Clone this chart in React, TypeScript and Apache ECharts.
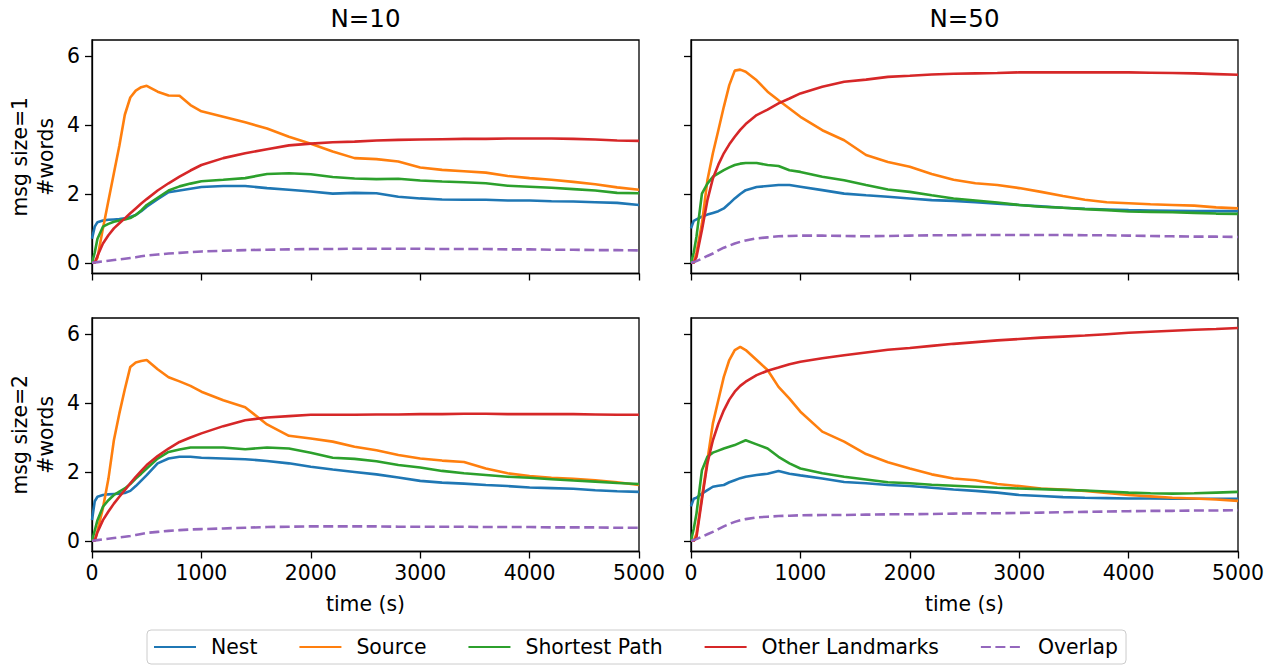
import React, { useEffect, useRef } from "react";
import * as echarts from "echarts";

// time samples (s)
const TIME = [0, 25, 50, 100, 150, 200, 250, 300, 350, 400, 450, 500, 600, 700, 800, 900, 1000, 1200, 1400, 1600, 1800, 2000, 2200, 2400, 2600, 2800, 3000, 3200, 3400, 3600, 3800, 4000, 4200, 4400, 4600, 4800, 5000];

const SERIES_NAMES = ["Nest", "Source", "Shortest Path", "Other Landmarks", "Overlap"];
const COLORS = ["#1f77b4", "#ff7f0e", "#2ca02c", "#d62728", "#9467bd"];
const COL_TITLES = ["N=10", "N=50"];
const ROW_LABELS = ["msg size=1\n#words", "msg size=2\n#words"];
const X_TICKS = [0, 1000, 2000, 3000, 4000, 5000];
const Y_TICKS = [0, 2, 4, 6];

// msg size=1, N=10
const NEST_S1_N10 = [0.7, 1.05, 1.18, 1.23, 1.25, 1.26, 1.27, 1.29, 1.33, 1.39, 1.5, 1.63, 1.85, 2.05, 2.1, 2.15, 2.2, 2.23, 2.23, 2.17, 2.12, 2.07, 2.01, 2.03, 2.02, 1.92, 1.87, 1.84, 1.83, 1.83, 1.81, 1.81, 1.79, 1.78, 1.76, 1.74, 1.68];
const SOURCE_S1_N10 = [0, 0, 0.15, 1.0, 1.8, 2.6, 3.4, 4.3, 4.8, 5.0, 5.1, 5.14, 4.97, 4.86, 4.85, 4.58, 4.4, 4.24, 4.08, 3.9, 3.66, 3.46, 3.23, 3.04, 3.01, 2.94, 2.77, 2.7, 2.66, 2.62, 2.52, 2.46, 2.41, 2.35, 2.28, 2.19, 2.12];
const SHORT_S1_N10 = [0, 0.3, 0.7, 1.05, 1.13, 1.19, 1.23, 1.26, 1.3, 1.39, 1.52, 1.68, 1.89, 2.1, 2.22, 2.3, 2.37, 2.41, 2.46, 2.58, 2.6, 2.57, 2.49, 2.45, 2.43, 2.44, 2.39, 2.36, 2.34, 2.31, 2.24, 2.21, 2.18, 2.14, 2.1, 2.03, 2.02];
const OTHER_S1_N10 = [0, 0, 0.2, 0.56, 0.8, 1.0, 1.15, 1.29, 1.44, 1.58, 1.72, 1.85, 2.1, 2.31, 2.5, 2.68, 2.84, 3.04, 3.18, 3.3, 3.41, 3.46, 3.5, 3.52, 3.55, 3.57, 3.58, 3.59, 3.6, 3.6, 3.61, 3.61, 3.61, 3.6, 3.58, 3.55, 3.54];
const OVERLAP_S1_N10 = [0, 0.01, 0.02, 0.04, 0.06, 0.08, 0.1, 0.12, 0.14, 0.16, 0.19, 0.21, 0.24, 0.27, 0.29, 0.31, 0.33, 0.35, 0.37, 0.38, 0.39, 0.4, 0.4, 0.41, 0.41, 0.41, 0.41, 0.4, 0.4, 0.4, 0.39, 0.39, 0.38, 0.38, 0.37, 0.37, 0.36];

// msg size=1, N=50
const NEST_S1_N50 = [1.0, 1.22, 1.26, 1.34, 1.4, 1.45, 1.5, 1.58, 1.72, 1.87, 2.0, 2.11, 2.2, 2.23, 2.26, 2.26, 2.21, 2.11, 2.01, 1.96, 1.92, 1.87, 1.82, 1.8, 1.76, 1.72, 1.68, 1.64, 1.6, 1.57, 1.55, 1.53, 1.52, 1.51, 1.5, 1.5, 1.5];
const SOURCE_S1_N50 = [0, 0, 0.3, 1.14, 2.4, 3.18, 3.85, 4.53, 5.16, 5.58, 5.61, 5.55, 5.3, 4.97, 4.72, 4.48, 4.24, 3.85, 3.56, 3.13, 2.93, 2.79, 2.58, 2.41, 2.31, 2.26, 2.17, 2.06, 1.94, 1.83, 1.76, 1.73, 1.7, 1.68, 1.66, 1.61, 1.58];
const SHORT_S1_N50 = [0, 0.3, 0.76, 2.01, 2.3, 2.5, 2.6, 2.69, 2.77, 2.84, 2.88, 2.9, 2.9, 2.84, 2.81, 2.69, 2.64, 2.5, 2.4, 2.26, 2.13, 2.06, 1.96, 1.87, 1.81, 1.75, 1.68, 1.63, 1.6, 1.56, 1.53, 1.49, 1.48, 1.47, 1.45, 1.43, 1.42];
const OTHER_S1_N50 = [0, 0, 0.17, 0.95, 1.82, 2.45, 2.85, 3.18, 3.44, 3.66, 3.86, 4.03, 4.29, 4.45, 4.63, 4.77, 4.92, 5.11, 5.26, 5.32, 5.4, 5.43, 5.47, 5.49, 5.5, 5.51, 5.53, 5.53, 5.53, 5.53, 5.53, 5.53, 5.52, 5.51, 5.5, 5.48, 5.46];
const OVERLAP_S1_N50 = [0, 0.02, 0.05, 0.12, 0.2, 0.27, 0.36, 0.44, 0.5, 0.56, 0.61, 0.65, 0.71, 0.74, 0.77, 0.78, 0.79, 0.79, 0.78, 0.77, 0.78, 0.79, 0.8, 0.8, 0.81, 0.81, 0.81, 0.81, 0.81, 0.8, 0.8, 0.79, 0.78, 0.77, 0.76, 0.76, 0.75];

// msg size=2, N=10
const NEST_S2_N10 = [0.6, 1.15, 1.28, 1.33, 1.35, 1.36, 1.37, 1.39, 1.45, 1.59, 1.75, 1.91, 2.25, 2.39, 2.44, 2.44, 2.41, 2.39, 2.37, 2.32, 2.25, 2.15, 2.07, 2.0, 1.93, 1.84, 1.74, 1.69, 1.66, 1.62, 1.59, 1.55, 1.53, 1.51, 1.47, 1.44, 1.42];
const SOURCE_S2_N10 = [0, 0, 0.3, 0.95, 1.8, 2.92, 3.7, 4.4, 5.05, 5.18, 5.22, 5.25, 4.98, 4.75, 4.63, 4.5, 4.33, 4.08, 3.88, 3.38, 3.05, 2.97, 2.88, 2.73, 2.63, 2.49, 2.39, 2.33, 2.29, 2.1, 1.96, 1.88, 1.83, 1.8, 1.76, 1.7, 1.62];
const SHORT_S2_N10 = [0, 0.3, 0.6, 0.99, 1.18, 1.33, 1.43, 1.52, 1.65, 1.81, 1.95, 2.1, 2.39, 2.58, 2.65, 2.71, 2.71, 2.71, 2.66, 2.71, 2.68, 2.56, 2.41, 2.38, 2.31, 2.2, 2.13, 2.03, 1.96, 1.91, 1.86, 1.83, 1.79, 1.75, 1.72, 1.68, 1.65];
const OTHER_S2_N10 = [0, 0, 0.25, 0.6, 0.85, 1.08, 1.28, 1.47, 1.67, 1.86, 2.03, 2.2, 2.46, 2.68, 2.87, 3.0, 3.12, 3.33, 3.5, 3.58, 3.62, 3.66, 3.66, 3.66, 3.67, 3.67, 3.68, 3.68, 3.69, 3.69, 3.68, 3.68, 3.68, 3.68, 3.67, 3.66, 3.66];
const OVERLAP_S2_N10 = [0, 0.01, 0.02, 0.04, 0.06, 0.08, 0.1, 0.12, 0.14, 0.17, 0.2, 0.23, 0.26, 0.29, 0.31, 0.33, 0.34, 0.36, 0.38, 0.4, 0.41, 0.42, 0.42, 0.42, 0.42, 0.41, 0.41, 0.41, 0.41, 0.4, 0.4, 0.4, 0.39, 0.39, 0.39, 0.38, 0.38];

// msg size=2, N=50
const NEST_S2_N50 = [1.0, 1.22, 1.25, 1.37, 1.47, 1.57, 1.6, 1.62, 1.7, 1.76, 1.82, 1.86, 1.91, 1.95, 2.03, 1.95, 1.9, 1.81, 1.71, 1.67, 1.62, 1.59, 1.54, 1.49, 1.45, 1.4, 1.33, 1.3, 1.27, 1.25, 1.24, 1.23, 1.23, 1.22, 1.22, 1.22, 1.22];
const SOURCE_S2_N50 = [0, 0, 0.2, 1.28, 2.34, 3.41, 4.09, 4.76, 5.25, 5.54, 5.63, 5.54, 5.25, 4.96, 4.47, 4.13, 3.75, 3.17, 2.88, 2.52, 2.28, 2.1, 1.93, 1.81, 1.76, 1.65, 1.59, 1.52, 1.49, 1.45, 1.39, 1.33, 1.29, 1.25, 1.23, 1.2, 1.16];
const SHORT_S2_N50 = [0, 0.35, 0.79, 2.05, 2.44, 2.56, 2.62, 2.68, 2.73, 2.78, 2.85, 2.92, 2.8, 2.68, 2.44, 2.25, 2.1, 1.96, 1.86, 1.78, 1.7, 1.67, 1.63, 1.6, 1.57, 1.54, 1.52, 1.5, 1.48, 1.46, 1.43, 1.4, 1.38, 1.37, 1.38, 1.4, 1.42];
const OTHER_S2_N50 = [0, 0, 0.1, 1.2, 2.25, 2.92, 3.4, 3.79, 4.1, 4.33, 4.5, 4.62, 4.81, 4.94, 5.03, 5.13, 5.2, 5.3, 5.39, 5.47, 5.55, 5.6, 5.66, 5.72, 5.77, 5.82, 5.86, 5.9, 5.93, 5.96, 6.0, 6.04, 6.07, 6.1, 6.13, 6.15, 6.18];
const OVERLAP_S2_N50 = [0, 0.02, 0.05, 0.12, 0.19, 0.26, 0.34, 0.42, 0.49, 0.55, 0.6, 0.63, 0.68, 0.7, 0.72, 0.73, 0.74, 0.75, 0.75, 0.76, 0.77, 0.77, 0.78, 0.79, 0.8, 0.8, 0.81, 0.82, 0.83, 0.84, 0.85, 0.86, 0.87, 0.87, 0.88, 0.88, 0.89];

const PANELS = [
  [NEST_S1_N10, SOURCE_S1_N10, SHORT_S1_N10, OTHER_S1_N10, OVERLAP_S1_N10],
  [NEST_S1_N50, SOURCE_S1_N50, SHORT_S1_N50, OTHER_S1_N50, OVERLAP_S1_N50],
  [NEST_S2_N10, SOURCE_S2_N10, SHORT_S2_N10, OTHER_S2_N10, OVERLAP_S2_N10],
  [NEST_S2_N50, SOURCE_S2_N50, SHORT_S2_N50, OTHER_S2_N50, OVERLAP_S2_N50],
];

const FONT = "DejaVu Sans";
const FS = 20.4;
const GRID_LEFTS = [92, 691];
const GRID_TOPS = [40, 318];
const GRID_W = 547;
const GRID_H = 233.5;

function buildOption() {
  const grids: any[] = [];
  const xAxes: any[] = [];
  const yAxes: any[] = [];
  const series: any[] = [];
  for (let p = 0; p < 4; p++) {
    const row = Math.floor(p / 2);
    const col = p % 2;
    grids.push({
      left: GRID_LEFTS[col],
      top: GRID_TOPS[row],
      width: GRID_W,
      height: GRID_H,
      show: true,
      borderColor: "#000",
      borderWidth: 1.3,
      backgroundColor: "transparent",
      containLabel: false,
    });
    xAxes.push({
      type: "value",
      gridIndex: p,
      min: 0,
      max: 5000,
      interval: 1000,
      axisLine: { show: true, onZero: false, lineStyle: { color: "#000", width: 1.3 } },
      axisTick: { show: true, length: 7, lineStyle: { color: "#000", width: 1.3 }, customValues: X_TICKS },
      axisLabel: {
        show: row === 1,
        fontSize: FS,
        fontFamily: FONT,
        color: "#000",
        margin: 11,
        customValues: X_TICKS,
        formatter: (v: number) => String(v),
      },
      splitLine: { show: false },
    });
    yAxes.push({
      type: "value",
      gridIndex: p,
      min: -0.31,
      max: 6.47,
      axisLine: { show: true, onZero: false, lineStyle: { color: "#000", width: 1.3 } },
      axisTick: { show: true, length: 7, lineStyle: { color: "#000", width: 1.3 }, customValues: Y_TICKS },
      axisLabel: {
        show: col === 0,
        fontSize: FS,
        fontFamily: FONT,
        color: "#000",
        margin: 12,
        customValues: Y_TICKS,
        formatter: (v: number) => String(v),
      },
      splitLine: { show: false },
    });
    PANELS[p].forEach((vals, s) => {
      series.push({
        type: "line",
        name: SERIES_NAMES[s],
        xAxisIndex: p,
        yAxisIndex: p,
        data: TIME.map((t, i) => [t, vals[i]]),
        showSymbol: false,
        symbol: "none",
        lineStyle: {
          color: COLORS[s],
          width: 2.6,
          type: s === 4 ? [10, 4.5] : "solid",
        },
        itemStyle: { color: COLORS[s] },
        emphasis: { disabled: true },
        silent: true,
        z: 2 + s,
      });
    });
  }

  const graphics: any[] = [];
  COL_TITLES.forEach((t, c) => {
    graphics.push({
      type: "text",
      x: GRID_LEFTS[c] + GRID_W / 2,
      y: 18,
      style: { text: t, fontSize: 24.5, fontFamily: FONT, fill: "#000", align: "center", verticalAlign: "middle" },
    });
    graphics.push({
      type: "text",
      x: GRID_LEFTS[c] + GRID_W / 2,
      y: 604,
      style: { text: "time (s)", fontSize: FS, fontFamily: FONT, fill: "#000", align: "center", verticalAlign: "middle" },
    });
  });
  ROW_LABELS.forEach((t, r) => {
    graphics.push({
      type: "text",
      x: 33,
      y: GRID_TOPS[r] + GRID_H / 2,
      rotation: Math.PI / 2,
      style: {
        text: t,
        fontSize: FS,
        fontFamily: FONT,
        fill: "#000",
        align: "center",
        verticalAlign: "middle",
        lineHeight: 26,
      },
    });
  });

  return {
    animation: false,
    backgroundColor: "#fff",
    grid: grids,
    xAxis: xAxes,
    yAxis: yAxes,
    series,
    graphic: graphics,
    legend: {
      show: true,
      data: SERIES_NAMES,
      left: 147,
      top: 630,
      orient: "horizontal",
      itemWidth: 42,
      itemHeight: 14,
      itemGap: 41,
      padding: [7, 8, 7, 6],
      borderColor: "#cccccc",
      borderWidth: 1,
      borderRadius: 4,
      selectedMode: false,
      itemStyle: { opacity: 0 },
      textStyle: { fontSize: FS, fontFamily: FONT, color: "#000", padding: [0, 0, 0, 10] },
    },
  };
}

export default function App() {
  const ref = useRef<HTMLDivElement>(null);
  useEffect(() => {
    if (!ref.current) return;
    const chart = echarts.init(ref.current, null, { renderer: "svg" });
    chart.setOption(buildOption());
    return () => {
      chart.dispose();
    };
  }, []);
  return (
    <div
      ref={ref}
      style={{ position: "fixed", left: 0, top: 0, width: 1271, height: 668, background: "#fff" }}
    />
  );
}
